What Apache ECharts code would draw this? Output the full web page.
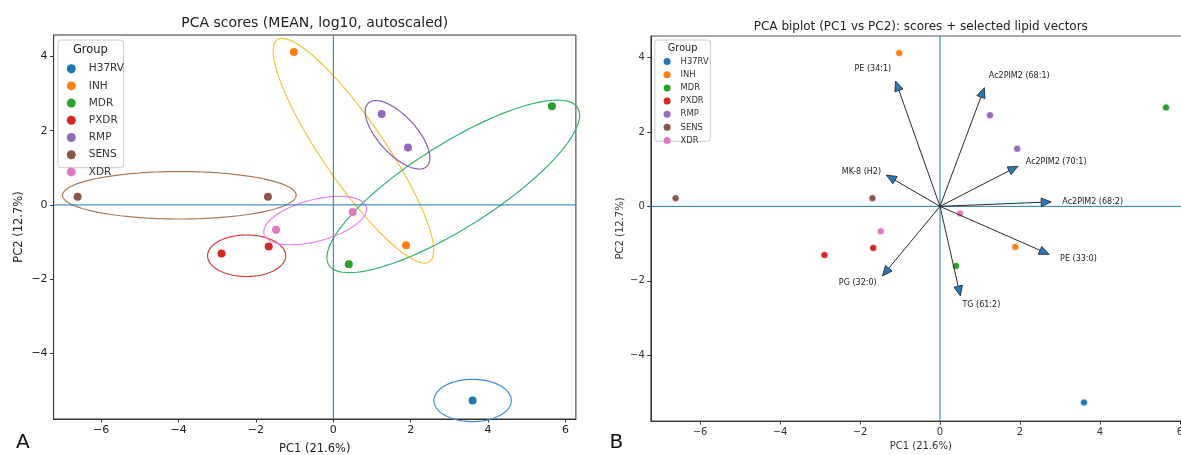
<!DOCTYPE html>
<html>
<head>
<meta charset="utf-8">
<script src="https://cdn.jsdelivr.net/npm/echarts@6/dist/echarts.min.js"></script>
<style>
  html, body { margin: 0; padding: 0; background: #fff; }
  #chart { width: 1181px; height: 455px; }
</style>
</head>
<body>
<div id="chart"></div>
<script>
const FONT = "DejaVu Sans";

// groups + colours (tab10 for points, separate palette for the ellipses)
const groups = ["H37RV", "INH", "MDR", "PXDR", "RMP", "SENS", "XDR"];
const groupColors = ["#1f77b4", "#ff7f0e", "#2ca02c", "#d62728", "#9467bd", "#8c564b", "#e377c2"];
const ellipseColors = ["#3a8fdc", "#f7c440", "#35b36f", "#d43a3a", "#8a5cb0", "#a67c5b", "#ee82ee"];

// PCA scores (one row per sample)
const pointGroup = ["H37RV", "INH", "INH", "MDR", "MDR", "PXDR", "PXDR", "RMP", "RMP", "SENS", "SENS", "XDR", "XDR"];
const pointPC1 = [3.60, -1.02, 1.88, 5.65, 0.40, -2.89, -1.67, 1.25, 1.93, -6.61, -1.69, 0.50, -1.48];
const pointPC2 = [-5.27, 4.12, -1.09, 2.66, -1.60, -1.31, -1.12, 2.45, 1.55, 0.22, 0.22, -0.19, -0.67];

// group ellipses: centre, semi-axes, rotation (degrees, data space)
const ellCx = [3.60, 0.52, 3.10, -2.24, 1.66, -3.98, -0.47];
const ellCy = [-5.27, 1.46, 0.50, -1.37, 1.89, 0.26, -0.42];
const ellA = [1.00, 3.58, 3.85, 1.01, 1.14, 3.02, 1.37];
const ellB = [0.57, 0.81, 1.12, 0.56, 0.50, 0.64, 0.56];
const ellAngle = [0, -56.8, 33.6, 0, -49.2, 0, 15.6];

// lipid loading vectors (arrow tips, scaled to score space)
const lipids = ["PE (34:1)", "Ac2PIM2 (68:1)", "Ac2PIM2 (70:1)", "Ac2PIM2 (68:2)", "MK-8 (H2)", "PE (33:0)", "PG (32:0)", "TG (61:2)"];
const lipidPC1 = [-1.11, 1.11, 1.95, 2.78, -1.34, 2.73, -1.44, 0.51];
const lipidPC2 = [3.37, 3.19, 1.08, 0.12, 0.84, -1.29, -1.87, -2.41];
const labelScale = 1.1;

// axes
const xRange = [-7.23, 6.27];
const yRange = [-5.77, 4.58];
const xTicks = [-6, -4, -2, 0, 2, 4, 6];
const yTicks = [-4, -2, 0, 2, 4];

const fmt = v => (v < 0 ? "\u2212" + (-v) : String(v));

const chart = echarts.init(document.getElementById("chart"), null, { renderer: "canvas" });

function axes(gi, tickSize, nameSize, xGap, yGap, color) {
  const common = {
    gridIndex: gi,
    type: "value",
    nameLocation: "middle",
    nameTextStyle: { fontSize: nameSize, color: color, fontFamily: FONT },
    axisLine: { show: true, onZero: false, lineStyle: { color: "#333", width: 1 } },
    splitLine: { show: false },
  };
  return {
    x: Object.assign({}, common, {
      min: xRange[0], max: xRange[1], name: "PC1 (21.6%)", nameGap: xGap,
      axisTick: { show: true, length: 3.5, customValues: xTicks, lineStyle: { color: "#333" } },
      axisLabel: { customValues: xTicks, formatter: fmt, fontSize: tickSize, color: color, fontFamily: FONT, margin: 6 },
    }),
    y: Object.assign({}, common, {
      min: yRange[0], max: yRange[1], name: "PC2 (12.7%)", nameGap: yGap,
      axisTick: { show: true, length: 3.5, customValues: yTicks, lineStyle: { color: "#333" } },
      axisLabel: { customValues: yTicks, formatter: fmt, fontSize: tickSize, color: color, fontFamily: FONT, margin: 6 },
    }),
  };
}
const axA = axes(0, 11, 11.5, 24, 29, "#222");
const axB = axes(1, 10, 10, 20, 25, "#333");

function renderEllipse(params, api) {
  const cx = api.value(0), cy = api.value(1), a = api.value(2), b = api.value(3);
  const t = api.value(4) * Math.PI / 180;
  const pts = [];
  for (let k = 0; k <= 160; k++) {
    const s = 2 * Math.PI * k / 160;
    const ex = a * Math.cos(s), ey = b * Math.sin(s);
    pts.push(api.coord([cx + ex * Math.cos(t) - ey * Math.sin(t), cy + ex * Math.sin(t) + ey * Math.cos(t)]));
  }
  return {
    type: "polyline",
    shape: { points: pts },
    style: { fill: null, stroke: ellipseColors[params.dataIndex], lineWidth: 1.2 },
  };
}

function renderArrow(params, api) {
  const x = api.value(0), y = api.value(1);
  const o = api.coord([0, 0]);
  const p = api.coord([x, y]);
  const dx = p[0] - o[0], dy = p[1] - o[1];
  const len = Math.hypot(dx, dy);
  const ux = dx / len, uy = dy / len;
  const L = 10, W = 4.3;
  const bx = p[0] - ux * L, by = p[1] - uy * L;
  const lp = api.coord([x * labelScale, y * labelScale]);
  return {
    type: "group",
    children: [
      { type: "line", shape: { x1: o[0], y1: o[1], x2: bx, y2: by }, style: { stroke: "#2b2b2b", lineWidth: 1 } },
      {
        type: "polygon",
        shape: { points: [p, [bx - uy * W, by + ux * W], [bx + uy * W, by - ux * W]] },
        style: { fill: "#2a7ab8", stroke: "#1a1a1a", lineWidth: 0.8 },
      },
      {
        type: "text", x: lp[0], y: lp[1],
        style: {
          text: lipids[params.dataIndex], fontSize: 8, fontFamily: FONT, fill: "#222",
          align: x > 0 ? "left" : "right", verticalAlign: "middle",
        },
      },
    ],
  };
}

// zero reference lines (x = 0 and y = 0) on a grid
function zeroLineSeries(gi) {
  const style = { color: "#1f77b4", width: 1, type: "solid" };
  return [
    { type: "line", xAxisIndex: gi, yAxisIndex: gi, z: 2, silent: true, symbol: "none", animation: false,
      lineStyle: style, data: [[0, yRange[0]], [0, yRange[1]]] },
    { type: "line", xAxisIndex: gi, yAxisIndex: gi, z: 2, silent: true, symbol: "none", animation: false,
      lineStyle: style, data: [[xRange[0], 0], [xRange[1], 0]] },
  ];
}

const series = [];
series.push(...zeroLineSeries(0), ...zeroLineSeries(1));
series.push({
  type: "custom",
  xAxisIndex: 0, yAxisIndex: 0,
  clip: false,
  z: 1,
  renderItem: renderEllipse,
  data: groups.map((g, i) => [ellCx[i], ellCy[i], ellA[i], ellB[i], ellAngle[i]]),
  animation: false,
});
groups.forEach((g, gi) => {
  const pts = [];
  pointGroup.forEach((pg, i) => { if (pg === g) pts.push([pointPC1[i], pointPC2[i]]); });
  series.push({
    name: g, type: "scatter", xAxisIndex: 0, yAxisIndex: 0, z: 3,
    symbolSize: 8, itemStyle: { color: groupColors[gi], opacity: 1 },
    data: pts, animation: false,
  });
  series.push({
    name: g, type: "scatter", xAxisIndex: 1, yAxisIndex: 1, z: 3,
    symbolSize: 7, itemStyle: { color: groupColors[gi], borderColor: "#fff", borderWidth: 0.6, opacity: 1 },
    data: pts, animation: false,
  });
});
series.push({
  type: "custom",
  xAxisIndex: 1, yAxisIndex: 1,
  clip: false,
  z: 4,
  renderItem: renderArrow,
  data: lipids.map((n, i) => [lipidPC1[i], lipidPC2[i]]),
  animation: false,
});

const legendBase = {
  data: groups, orient: "vertical", icon: "circle", padding: 0,
  selectedMode: false,
};

const option = {
  backgroundColor: "#fff",
  animation: false,
  textStyle: { fontFamily: FONT },
  title: [
    { text: "PCA scores (MEAN, log10, autoscaled)", left: 314.7, top: 16.5, textAlign: "center", padding: 0,
      textStyle: { fontSize: 14, fontWeight: "normal", color: "#222", fontFamily: FONT } },
    { text: "PCA biplot (PC1 vs PC2): scores + selected lipid vectors", left: 920.8, top: 20.5, textAlign: "center", padding: 0,
      textStyle: { fontSize: 12, fontWeight: "normal", color: "#222", fontFamily: FONT } },
  ],
  grid: [
    { left: 53.6, top: 35, width: 522.3, height: 384, show: true, borderColor: "#333", borderWidth: 1,
      backgroundColor: "transparent", outerBoundsMode: "none", containLabel: false },
    { left: 650.8, top: 36, width: 540, height: 385, show: true, borderColor: "#555", borderWidth: 1,
      backgroundColor: "transparent", outerBoundsMode: "none", containLabel: false },
  ],
  xAxis: [axA.x, axB.x],
  yAxis: [axA.y, axB.y],
  legend: [
    Object.assign({}, legendBase, {
      left: 66.8, top: 63.2, itemWidth: 9, itemHeight: 9, itemGap: 6.2,
      textStyle: { fontSize: 10.5, color: "#333", fontFamily: FONT, lineHeight: 9, padding: [0, 0, 0, 8] },
    }),
    Object.assign({}, legendBase, {
      left: 663.6, top: 57.6, itemWidth: 7, itemHeight: 7, itemGap: 5.15,
      textStyle: { fontSize: 8.4, color: "#333", fontFamily: FONT, lineHeight: 7, padding: [0, 0, 0, 5] },
    }),
  ],
  graphic: [
    { type: "rect", z: 0, shape: { x: 58, y: 40, width: 65.5, height: 127.7, r: 3 },
      style: { fill: "rgba(255,255,255,0.85)", stroke: "#cccccc", lineWidth: 1 } },
    { type: "text", z: 5, x: 90.4, y: 50, style: { text: "Group", fontSize: 11.5, fontFamily: FONT, fill: "#222", align: "center", verticalAlign: "middle" } },
    { type: "rect", z: 0, shape: { x: 654.8, y: 40, width: 55.6, height: 101.3, r: 3 },
      style: { fill: "rgba(255,255,255,0.85)", stroke: "#cccccc", lineWidth: 1 } },
    { type: "text", z: 5, x: 682.6, y: 48.3, style: { text: "Group", fontSize: 9.7, fontFamily: FONT, fill: "#222", align: "center", verticalAlign: "middle" } },
    { type: "text", z: 5, x: 16, y: 432.5, style: { text: "A", fontSize: 20, fontFamily: FONT, fill: "#111" } },
    { type: "text", z: 5, x: 609.5, y: 432.5, style: { text: "B", fontSize: 20, fontFamily: FONT, fill: "#111" } },
  ],
  series: series,
};

chart.setOption(option);
</script>
</body>
</html>
